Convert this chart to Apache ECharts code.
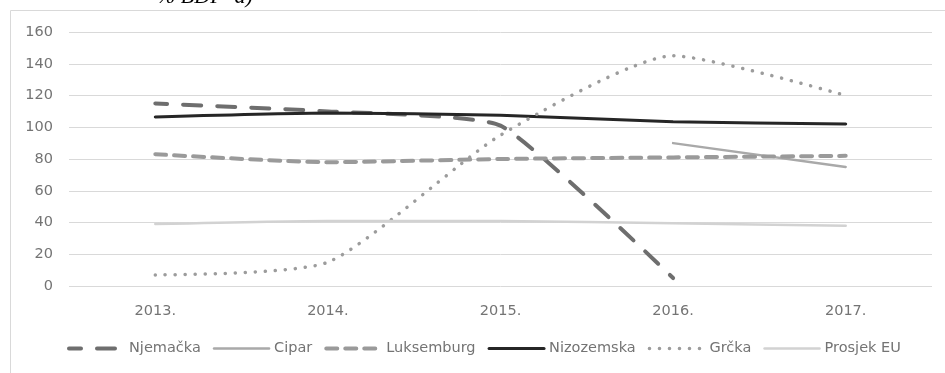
<!DOCTYPE html>
<html>
<head>
<meta charset="utf-8">
<script src="https://cdn.jsdelivr.net/npm/echarts@6/dist/echarts.min.js"></script>
<style>
  html, body { margin: 0; padding: 0; background: #fff; }
  #chart { width: 945px; height: 373px; }
</style>
</head>
<body>
<div id="chart"></div>
<script>
// Years on the category axis
const years = ['2013.', '2014.', '2015.', '2016.', '2017.'];

// Values per country (% BDP); null where no value exists
const njemacka   = [115, 110, 101, 5, null];
const cipar      = [null, null, null, 90, 75];
const luksemburg = [83, 78, 80, 81, 82];
const nizozemska = [106.5, 109, 107.5, 103.5, 102];
const grcka      = [7, 15, 95, 145, 120];
const prosjekEU  = [39, 41, 41, 39.5, 38];

// Value-axis ticks
const yTicks = [0, 20, 40, 60, 80, 100, 120, 140, 160];

const chart = echarts.init(document.getElementById('chart'));

const font = '"DejaVu Sans", Verdana, sans-serif';
const textColor = '#747474';

// Line styles per country
const styles = {
  'Njemačka':   { color: '#6e6e6e', width: 4,   type: [18, 16],   smooth: 0.15, offset: 6 },
  'Cipar':      { color: '#a9a9a9', width: 2.5, type: 'solid',    smooth: 0.2 },
  'Luksemburg': { color: '#9a9a9a', width: 4,   type: [11, 8],    smooth: 0.2 },
  'Nizozemska': { color: '#262626', width: 3,   type: 'solid',    smooth: 0.2 },
  'Grčka':      { color: '#9c9c9c', width: 3.5, type: [0.1, 9.9], smooth: 0.2 },
  'Prosjek EU': { color: '#d2d2d2', width: 2.5, type: 'solid',    smooth: 0.2 }
};

function line(name, data) {
  const s = styles[name];
  return {
    name: name,
    type: 'line',
    data: data,
    symbol: 'none',
    smooth: s.smooth,
    connectNulls: false,
    lineStyle: { color: s.color, width: s.width, type: s.type, cap: 'round', dashOffset: s.offset || 0 },
    itemStyle: { color: s.color }
  };
}

const names = ['Njemačka', 'Cipar', 'Luksemburg', 'Nizozemska', 'Grčka', 'Prosjek EU'];

chart.setOption({
  animation: false,
  graphic: [
    {
      type: 'rect',
      shape: { x: 10.5, y: 10.5, width: 960, height: 400 },
      style: { fill: 'none', stroke: '#d9d9d9', lineWidth: 1 },
      z: 0
    },
    {
      type: 'text',
      left: 157,
      top: -14,
      style: {
        text: '% BDP  a)',
        font: 'italic 22px "Liberation Serif", "Times New Roman", serif',
        fill: '#000'
      }
    }
  ],
  grid: { left: 69, right: 13, top: 32, bottom: 87 },
  legend: {
    bottom: 12,
    left: 62,
    itemWidth: 55,
    itemHeight: 8,
    itemGap: 12,
    itemStyle: { opacity: 0 },
    textStyle: { color: textColor, fontSize: 14.5, fontFamily: font },
    data: names.map(n => ({
      name: n,
      lineStyle: {
        color: styles[n].color,
        width: styles[n].width,
        type: styles[n].type,
        cap: 'round'
      }
    }))
  },
  xAxis: {
    type: 'category',
    data: years,
    boundaryGap: true,
    axisLine: { show: false },
    axisTick: { show: false },
    axisLabel: { color: textColor, fontSize: 14.5, fontFamily: font, margin: 18 }
  },
  yAxis: {
    type: 'value',
    min: yTicks[0],
    max: yTicks[yTicks.length - 1],
    interval: 20,
    axisLine: { show: false },
    axisTick: { show: false },
    axisLabel: { color: textColor, fontSize: 14.5, fontFamily: font, margin: 16 },
    splitLine: { lineStyle: { color: '#d9d9d9', width: 1 } }
  },
  series: [
    line('Njemačka', njemacka),
    line('Cipar', cipar),
    line('Luksemburg', luksemburg),
    line('Nizozemska', nizozemska),
    line('Grčka', grcka),
    line('Prosjek EU', prosjekEU)
  ]
});
</script>
</body>
</html>
